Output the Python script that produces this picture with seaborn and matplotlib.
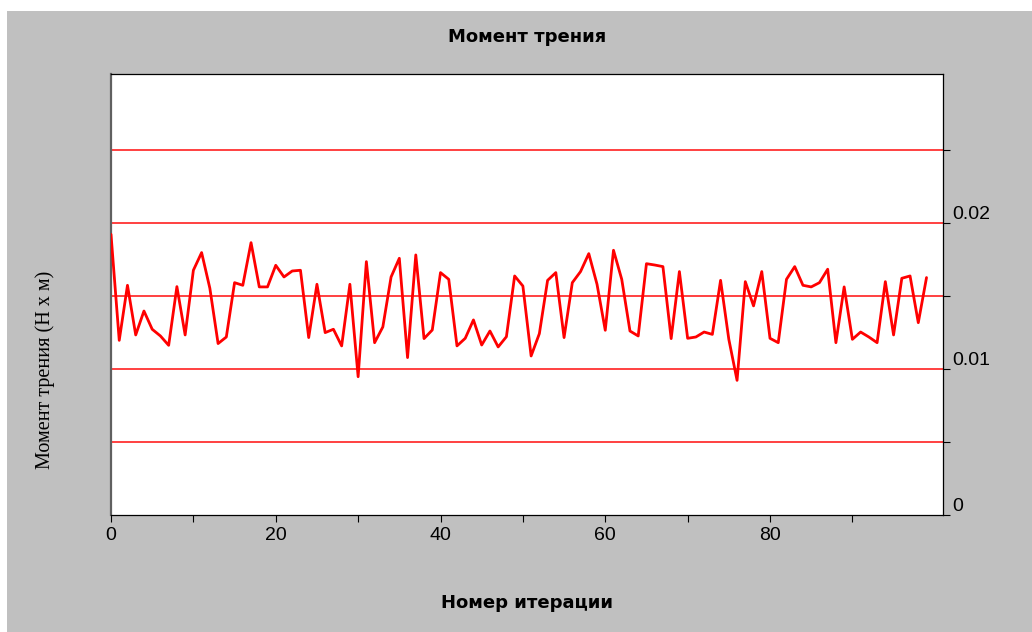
import numpy as np
import pandas as pd
import matplotlib
matplotlib.use("Agg")
import matplotlib.pyplot as plt
from matplotlib.patches import Rectangle
from matplotlib.ticker import FixedLocator, FixedFormatter
import seaborn as sns

title = "Момент трения"
xlabel = "Номер итерации"
ylabel = "Момент трения (Н х м)"

iterations = list(range(100))
torque = [
    0.01922, 0.01196, 0.01573, 0.01233, 0.01397, 0.01272, 0.01226, 0.01162, 0.01564, 0.01233,
    0.01676, 0.01797, 0.01553, 0.01174, 0.01219, 0.01591, 0.01573, 0.01865, 0.01562, 0.01562,
    0.01710, 0.01630, 0.01671, 0.01676, 0.01215, 0.01580, 0.01249, 0.01272, 0.01158, 0.01580,
    0.00947, 0.01735, 0.01180, 0.01288, 0.01630, 0.01758, 0.01078, 0.01781, 0.01208, 0.01267,
    0.01660, 0.01614, 0.01158, 0.01210, 0.01336, 0.01164, 0.01260, 0.01151, 0.01221, 0.01637,
    0.01568, 0.01089, 0.01242, 0.01607, 0.01660, 0.01215, 0.01591, 0.01667, 0.01790, 0.01580,
    0.01265, 0.01813, 0.01614, 0.01260, 0.01226, 0.01721, 0.01712, 0.01701, 0.01208, 0.01667,
    0.01210, 0.01219, 0.01253, 0.01237, 0.01607, 0.01203, 0.00922, 0.01598, 0.01432, 0.01667,
    0.01210, 0.01180, 0.01614, 0.01701, 0.01573, 0.01562, 0.01591, 0.01683, 0.01180, 0.01562,
    0.01203, 0.01253, 0.01219, 0.01180, 0.01598, 0.01233, 0.01621, 0.01637, 0.01317, 0.01626,
]
grid_levels = [0.005, 0.010, 0.015, 0.020, 0.025]
ytick_vals = [0, 0.005, 0.01, 0.015, 0.02, 0.025]
ytick_labels = ["0", "", "0.01", "", "0.02", ""]
xtick_major = [0, 20, 40, 60, 80]
xtick_minor = [10, 30, 50, 70, 90]

df = pd.DataFrame({"iter": iterations, "torque": torque})

sns.set_style("white")
plt.rcParams["font.family"] = ["Liberation Sans", "DejaVu Sans"]
plt.rcParams["text.color"] = "black"

W, H = 1032, 632
fig = plt.figure(figsize=(W / 100, H / 100), dpi=100)
fig.patch.set_facecolor("white")
fig.patches.append(Rectangle((7 / W, 0), 1 - 7 / W, (H - 11) / H,
                             transform=fig.transFigure, facecolor="#c0c0c0",
                             edgecolor="none", zorder=-10))

ax = fig.add_axes([111 / W, (H - 515) / H, (943 - 111) / W, (515 - 74) / H])
ax.set_zorder(5)
ax.set_facecolor("white")

for g in grid_levels:
    ax.axhline(g, color="#ff2020", lw=1.2, zorder=1)

sns.lineplot(data=df, x="iter", y="torque", ax=ax, color="#ff0000", lw=2.0, zorder=3)

ax.set_xlim(0, 101)
ax.set_ylim(0, 0.0302)

ax.yaxis.tick_right()
ax.yaxis.set_major_locator(FixedLocator(ytick_vals))
ax.yaxis.set_major_formatter(FixedFormatter(ytick_labels))
ax.xaxis.set_major_locator(FixedLocator(xtick_major))
ax.xaxis.set_minor_locator(FixedLocator(xtick_minor))
ax.tick_params(axis="both", which="both", direction="out", length=5, width=0.8,
               color="black", labelsize=14, labelcolor="black")
ax.tick_params(axis="x", which="both", bottom=True, pad=4)
ax.tick_params(axis="y", which="both", right=True, left=False, pad=2)
for lab in ax.get_yticklabels():
    lab.set_verticalalignment("bottom")

for s in ax.spines.values():
    s.set_color("black")
    s.set_linewidth(0.9)
ax.spines["left"].set_color("#606060")
ax.spines["left"].set_linewidth(1.6)

ax.set_xlabel("")
ax.set_ylabel("")

fig.text(527 / W, 1 - 37 / H, title, ha="center", va="center",
         fontsize=13, fontweight="bold", color="black", family=["DejaVu Sans"])
fig.text(527 / W, 1 - 603 / H, xlabel, ha="center", va="center",
         fontsize=13, fontweight="bold", color="black", family=["DejaVu Sans"])
fig.text(45 / W, 1 - 370 / H, ylabel, ha="center", va="center", rotation=90,
         fontsize=14.5, color="black", family=["Liberation Serif", "DejaVu Serif"])

fig.savefig("out.png", dpi=100)
